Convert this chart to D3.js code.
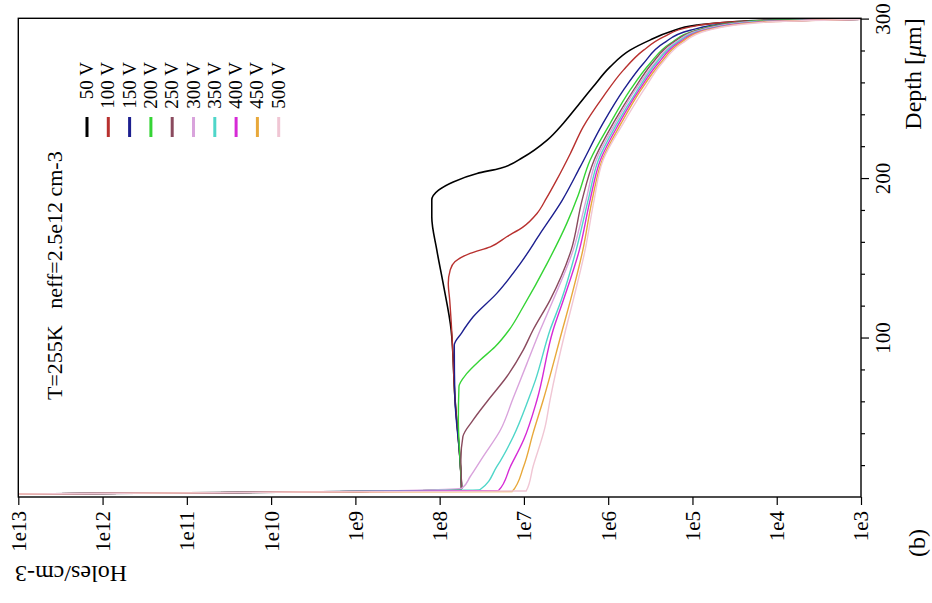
<!DOCTYPE html>
<html>
<head>
<meta charset="utf-8">
<script src="https://cdnjs.cloudflare.com/ajax/libs/d3/7.8.5/d3.min.js"></script>
<style>
    body { margin: 0; background: #fff; }
    svg { display: block; }
    svg text { font-family: "Liberation Serif", "DejaVu Serif", serif; fill: #000; }
</style>
</head>
<body>
<svg id="chart" width="932" height="603"></svg>
<script>
// bias voltages and the hole density profiles, [depth um, holes/cm3]
const voltages = ["50 V", "100 V", "150 V", "200 V", "250 V", "300 V", "350 V", "400 V", "450 V", "500 V"];
const decadeTicks = [1e13, 1e12, 1e11, 1e10, 1e9, 1e8, 1e7, 1e6, 1e5, 1e4, 1e3];
const depthTicks = [100, 200, 300];
const annotation = "T=255K   neff=2.5e12 cm-3";

const v50 = [[1.9,1e13],[3.1,4.5e9],[5.0,5.5e7],[21.3,5.7e7],[62.9,6.6e7],[104.7,7.3e7],[134.1,9.1e7],
    [154.8,1.08e8],[175.7,1.24e8],[186.2,1.24e8],[192.4,1.03e8],[197.6,6.9e7],[202.9,3.6e7],[206.2,1.9e7],
    [213.1,1.02e7],[223.8,5.3e6],[234.4,3.4e6],[244.7,2.35e6],[257.2,1.51e6],[269.7,9.5e5],[280.2,5.5e5],
    [286.5,3.2e5],[291.7,1.84e5],[295.9,8.9e4],[297.9,3.6e4],[299.0,1.44e4],[299.6,1e3]];
const v100 = [[1.9,1e13],[3.1,4.5e9],[5.0,5.5e7],[21.3,5.7e7],[62.9,6.6e7],[104.7,7.2e7],[123.5,7.6e7],[134.1,7.9e7],
    [142.3,7.5e7],[147.5,6.6e7],[152.8,4.35e7],[156.9,2.5e7],[163.2,1.6e7],[169.4,1.02e7],[177.8,7.0e6],
    [187.4,5.4e6],[198.7,4.1e6],[215.6,2.8e6],[232.1,1.98e6],[250.9,1.15e6],[267.7,6.6e5],[280.2,3.8e5],
    [288.5,2.2e5],[294.8,1.06e5],[297.9,3.6e4],[299.0,1.2e4],[299.6,1e3]];
const v150 = [[1.9,1e13],[3.1,4.5e9],[5.0,5.5e7],[21.3,5.7e7],[62.9,6.6e7],[95.3,6.7e7],[102.8,5.5e7],[113.0,4.0e7],
    [127.7,2.1e7],[146.5,1.1e7],[165.3,6.4e6],[186.2,3.5e6],[207.0,2.15e6],[234.4,1.15e6],[255.1,6.6e5],
    [272.0,3.8e5],[284.6,2.2e5],[292.7,1.06e5],[297.1,3.6e4],[299.0,1.2e4],[299.6,1e3]];
const v200 = [[1.9,1e13],[3.1,4.5e9],[5.0,5.5e7],[21.3,5.7e7],[48.3,6.0e7],[69.1,5.9e7],[77.5,4.75e7],[85.9,3.3e7],
    [94.2,2.2e7],[104.7,1.5e7],[119.3,1.02e7],[146.5,5.3e6],[171.6,3.1e6],[189.3,2.27e6],[211.2,1.64e6],
    [234.2,9.5e5],[255.1,5.5e5],[271.9,3.2e5],[284.4,1.84e5],[292.7,8.9e4],[297.6,3.0e4],[299.0,1.1e4],[299.6,1e3]];
const v250 = [[1.9,1e13],[3.1,4.5e9],[5.0,5.5e7],[23.2,5.6e7],[37.8,5.3e7],[48.3,4.0e7],[60.8,2.65e7],[75.4,1.6e7],
    [92.1,1.02e7],[104.7,7.8e6],[123.5,4.9e6],[154.8,2.75e6],[186.2,2.04e6],[211.2,1.47e6],[234.4,8.7e5],
    [255.1,5.0e5],[272.0,3.0e5],[284.6,1.74e5],[292.7,8.5e4],[297.8,2.7e4],[299.6,1e3]];
const v300 = [[1.9,1e13],[3.1,4.5e9],[5.6,5.4e7],[12.7,4.35e7],[25.3,3.05e7],[42.0,1.9e7],[62.1,1.34e7],[83.8,9.2e6],
    [104.7,6.4e6],[123.5,4.5e6],[154.8,2.6e6],[186.2,1.83e6],[211.2,1.39e6],[234.4,8.2e5],[255.1,4.8e5],
    [272.0,2.8e5],[284.6,1.64e5],[292.7,8.1e4],[297.8,2.4e4],[299.6,1e3]];
const v350 = [[1.9,1e13],[3.1,4.5e9],[4.2,5.5e7],[4.7,3.3e7],[19.0,2.1e7],[37.8,1.34e7],[60.8,8.9e6],[73.3,7.3e6],
    [104.7,4.9e6],[123.5,3.6e6],[154.8,2.4e6],[186.2,1.73e6],[211.2,1.31e6],[234.4,7.8e5],[255.1,4.5e5],
    [272.0,2.7e5],[284.6,1.56e5],[292.7,7.6e4],[297.8,2.1e4],[299.6,1e3]];
const v400 = [[1.9,1e13],[3.1,4.5e9],[4.1,2.0e7],[19.0,1.45e7],[35.7,1.01e7],[60.8,7.0e6],[104.7,4.5e6],[123.5,3.4e6],
    [154.8,2.2e6],[186.2,1.64e6],[211.2,1.24e6],[234.4,7.4e5],[255.1,4.3e5],[272.0,2.55e5],[284.6,1.48e5],
    [292.7,7.2e4],[297.8,1.8e4],[299.6,1e3]];
const v450 = [[1.9,1e13],[3.1,4.5e9],[3.4,1.38e7],[19.0,1.01e7],[39.9,7.8e6],[60.8,5.9e6],[104.7,3.5e6],[123.5,2.8e6],
    [154.8,2.0e6],[186.2,1.55e6],[211.2,1.18e6],[234.4,7.0e5],[255.1,4.1e5],[272.0,2.4e5],[284.6,1.40e5],
    [292.7,6.9e4],[297.8,1.57e4],[299.6,1e3]];
const v500 = [[1.9,1e13],[3.1,4.5e9],[3.8,9.4e6],[19.0,7.8e6],[44.1,5.6e6],[60.8,4.9e6],[104.7,3.2e6],[123.5,2.6e6],
    [154.8,1.88e6],[186.2,1.47e6],[211.2,1.15e6],[234.4,6.6e5],[255.1,3.8e5],[272.0,2.3e5],[284.6,1.32e5],
    [292.7,6.5e4],[297.8,1.36e4],[299.6,1e3]];

const profiles = [v50, v100, v150, v200, v250, v300, v350, v400, v450, v500];
const colors = ["#000000", "#b8312f", "#1c1f8f", "#35d435", "#8a4a5e",
    "#d9a3dc", "#4fd6c9", "#d62ad6", "#e8a83a", "#f0c6d4"];

const svg = d3.select("#chart");
const box = {left: 18.3, right: 861, top: 18.3, bottom: 497};

// holes run horizontally (1e13 at the left), depth runs upward
const x = d3.scaleLog().domain([1e13, 1e3]).range([box.left, box.right]);
const y = d3.scaleLinear().domain([0, 300]).range([box.bottom, 18.6]);

svg.append("clipPath").attr("id", "plotclip")
    .append("rect")
    .attr("x", box.left).attr("y", box.top)
    .attr("width", box.right - box.left).attr("height", box.bottom - box.top);

// curves
const line = d3.line()
    .x(d => x(d[1]))
    .y(d => y(d[0]))
    .curve(d3.curveMonotoneY);
svg.append("g").attr("clip-path", "url(#plotclip)")
    .selectAll("path")
    .data(profiles)
    .join("path")
    .attr("d", line)
    .attr("fill", "none")
    .attr("stroke", (d, i) => colors[i])
    .attr("stroke-width", (d, i) => i === 0 ? 1.6 : 1.4);

// frame
svg.append("rect")
    .attr("x", box.left).attr("y", box.top)
    .attr("width", box.right - box.left).attr("height", box.bottom - box.top)
    .attr("fill", "none").attr("stroke", "#000").attr("stroke-width", 1.4);

// bottom log axis
const minorHoles = x.ticks().filter(v => !decadeTicks.includes(v));
svg.append("g").attr("transform", `translate(0,${box.bottom})`)
    .call(d3.axisBottom(x).tickValues(minorHoles).tickSize(4).tickFormat(""))
    .call(g => g.select(".domain").remove());
const gx = svg.append("g").attr("transform", `translate(0,${box.bottom})`)
    .call(d3.axisBottom(x).tickValues(decadeTicks).tickSize(8)
        .tickFormat(d => "1e" + Math.round(Math.log10(d))))
    .attr("font-family", null).attr("font-size", null);
gx.select(".domain").remove();
gx.selectAll("text")
    .attr("transform", "rotate(-90)")
    .attr("x", -14).attr("y", 0).attr("dy", "0.33em")
    .attr("text-anchor", "end")
    .style("font-size", "21px");

// right depth axis
svg.append("g").attr("transform", `translate(${box.right},0)`)
    .call(d3.axisRight(y).tickValues(d3.range(20, 300, 20).filter(v => v % 100)).tickSize(4).tickFormat(""))
    .call(g => g.select(".domain").remove());
const gy = svg.append("g").attr("transform", `translate(${box.right},0)`)
    .call(d3.axisRight(y).tickValues(depthTicks).tickSize(8))
    .attr("font-family", null).attr("font-size", null);
gy.select(".domain").remove();
gy.selectAll("text")
    .attr("transform", "rotate(-90)")
    .attr("x", 0).attr("y", 29).attr("dy", 0)
    .attr("text-anchor", "middle")
    .style("font-size", "21px");
svg.selectAll(".tick line").attr("stroke-width", 1.2);

// axis titles
const depthTitle = svg.append("text")
    .attr("transform", "translate(921,74) rotate(-90)")
    .attr("text-anchor", "middle")
    .style("font-size", "24px");
depthTitle.append("tspan").text("Depth [");
depthTitle.append("tspan").style("font-style", "italic").text("\u03bc");
depthTitle.append("tspan").text("m]");

svg.append("text")
    .attr("transform", "translate(127,566) rotate(180)")
    .attr("text-anchor", "start")
    .style("font-size", "24px")
    .text("Holes/cm-3");

svg.append("text")
    .attr("transform", "translate(925,543) rotate(-90)")
    .attr("text-anchor", "middle")
    .style("font-size", "24px")
    .text("(b)");

svg.append("text")
    .attr("transform", "translate(62,400) rotate(-90)")
    .style("font-size", "22px")
    .style("white-space", "pre")
    .text(annotation);

// legend
const legend = svg.append("g").selectAll("g")
    .data(voltages)
    .join("g")
    .attr("transform", (d, i) => `translate(${87 + i * 21.3},0)`);
legend.append("rect")
    .attr("x", -1.5).attr("y", 117)
    .attr("width", 3).attr("height", 20)
    .attr("fill", (d, i) => colors[i]);
legend.append("text")
    .attr("transform", "translate(6,62) rotate(-90)")
    .attr("text-anchor", "end")
    .style("font-size", "19px")
    .text(d => d);
</script>
</body>
</html>
